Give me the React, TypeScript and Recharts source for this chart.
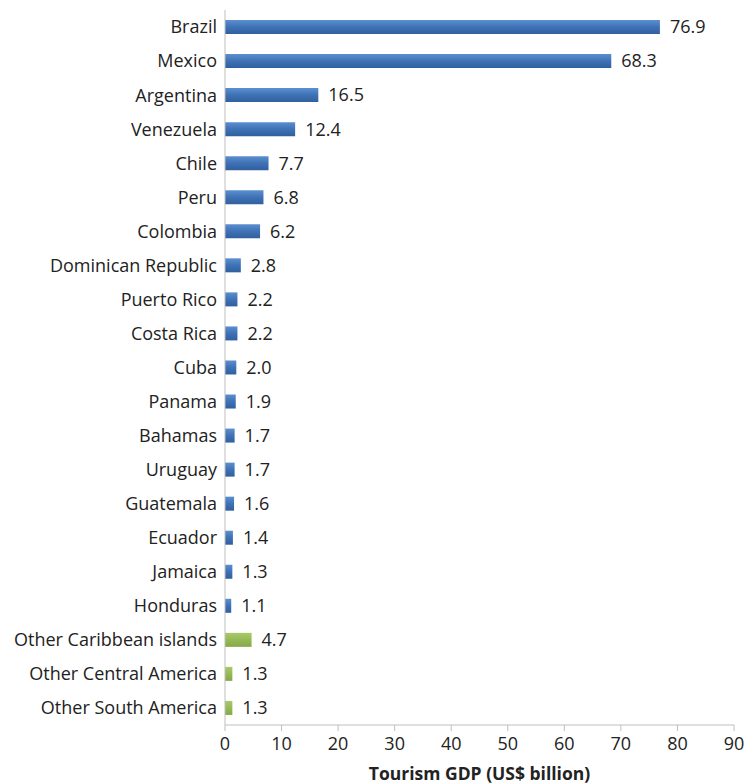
import { BarChart, Bar, XAxis, YAxis, Cell, LabelList } from "recharts";

const countries = [
  "Brazil", "Mexico", "Argentina", "Venezuela", "Chile", "Peru", "Colombia",
  "Dominican Republic", "Puerto Rico", "Costa Rica", "Cuba", "Panama", "Bahamas",
  "Uruguay", "Guatemala", "Ecuador", "Jamaica", "Honduras",
  "Other Caribbean islands", "Other Central America", "Other South America",
];
const gdp = [
  76.9, 68.3, 16.5, 12.4, 7.7, 6.8, 6.2, 2.8, 2.2, 2.2, 2.0, 1.9, 1.7, 1.7, 1.6,
  1.4, 1.3, 1.1, 4.7, 1.3, 1.3,
];
const isOther = countries.map((c) => c.startsWith("Other"));
const xTicks = [0, 10, 20, 30, 40, 50, 60, 70, 80, 90];

const data = countries.map((name, i) => ({ name, value: gdp[i], other: isOther[i] }));

const FONT = "'Open Sans', sans-serif";

export default function App() {
  return (
    <div style={{ position: "absolute", left: 0, top: 0, fontFamily: FONT }}>
      <BarChart
        width={745}
        height={784}
        data={data}
        layout="vertical"
        margin={{ top: 10, right: 11, bottom: 0, left: 0 }}
      >
        <defs>
          <linearGradient id="blueGrad" x1="0" y1="0" x2="0" y2="1">
            <stop offset="0%" stopColor="#5b8fd0" />
            <stop offset="50%" stopColor="#3f72b5" />
            <stop offset="100%" stopColor="#2f5f9e" />
          </linearGradient>
          <linearGradient id="greenGrad" x1="0" y1="0" x2="0" y2="1">
            <stop offset="0%" stopColor="#a9c96a" />
            <stop offset="50%" stopColor="#97b955" />
            <stop offset="100%" stopColor="#86a847" />
          </linearGradient>
        </defs>
        <XAxis
          type="number"
          domain={[0, 90]}
          ticks={xTicks}
          height={59}
          stroke="#bfbfbf"
          tickSize={6}
          tickMargin={6}
          tick={{ fill: "#222", fontSize: 18, fontFamily: FONT }}
          label={{
            value: "Tourism GDP (US$ billion)",
            position: "insideBottom",
            offset: 4,
            fill: "#222",
            fontSize: 17.5,
            fontWeight: "bold",
            fontFamily: FONT,
          }}
        />
        <YAxis
          type="category"
          dataKey="name"
          width={225}
          stroke="#bfbfbf"
          tickLine={false}
          interval={0}
          tick={{ fill: "#222", fontSize: 18, fontFamily: FONT }}
        />
        <Bar dataKey="value" barSize={14} isAnimationActive={false}>
          {data.map((d, i) => (
            <Cell key={i} fill={d.other ? "url(#greenGrad)" : "url(#blueGrad)"} />
          ))}
          <LabelList
            dataKey="value"
            position="right"
            offset={10}
            formatter={(v: number) => v.toFixed(1)}
            style={{ fill: "#222", fontSize: 18, fontFamily: FONT }}
          />
        </Bar>
      </BarChart>
    </div>
  );
}
